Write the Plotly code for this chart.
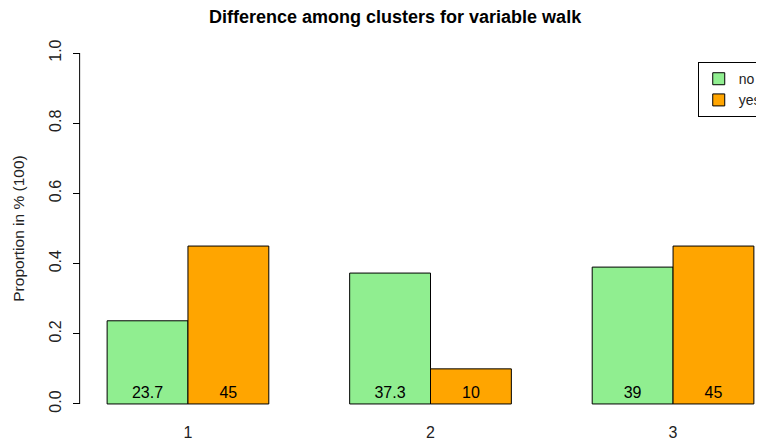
import plotly.graph_objects as go

clusters = ["1", "2", "3"]
no_vals = [0.237, 0.373, 0.39]
yes_vals = [0.45, 0.10, 0.45]
no_labels = ["23.7", "37.3", "39"]
yes_labels = ["45", "10", "45"]
y_ticks = [0.0, 0.2, 0.4, 0.6, 0.8, 1.0]

font = "Liberation Sans, Arial, sans-serif"

fig = go.Figure()
fig.add_trace(go.Bar(x=clusters, y=no_vals, name="no", text=no_labels,
                     marker=dict(color="#90EE90", line=dict(color="black", width=1))))
fig.add_trace(go.Bar(x=clusters, y=yes_vals, name="yes", text=yes_labels,
                     marker=dict(color="#FFA500", line=dict(color="black", width=1))))
fig.update_traces(textposition="inside", insidetextanchor="start", textangle=0,
                  textfont=dict(color="black", size=16, family=font),
                  constraintext="none")

# y axis line only from 0 to 1, like R's axis()
fig.add_shape(type="line", xref="paper", yref="y", x0=-0.002, x1=-0.002,
              y0=0, y1=1, line=dict(color="black", width=1))

# page body has an 8px margin, so the figure is 8px smaller and shifted
fig.update_layout(
    width=756, height=435,
    margin=dict(l=73, r=0, t=31, b=25, autoexpand=False),
    paper_bgcolor="white", plot_bgcolor="white",
    font=dict(family=font, size=16, color="#222222"),
    barmode="group", bargap=1 / 3, bargroupgap=0,
    title=dict(text="<b>Difference among clusters for variable walk</b>",
               x=0.512, xanchor="center", y=0.979, yanchor="middle",
               font=dict(size=18, family=font, color="black")),
    xaxis=dict(range=[-0.441, 2.375], showline=False, showgrid=False,
               zeroline=False, ticks="", tickfont=dict(size=16),
               automargin=False, ticklabelstandoff=3),
    yaxis=dict(range=[-0.04, 1.04], tickvals=y_ticks, tickformat=".1f",
               showline=False, showgrid=False, zeroline=False,
               ticks="outside", ticklen=7, tickcolor="black",
               tickangle=-90, tickfont=dict(size=16), automargin=False,
               ticklabelstandoff=6,
               title=dict(text="Proportion in % (100)", standoff=18,
                          font=dict(size=15.5))),
    legend=dict(x=0.903, y=0.939, xanchor="left", yanchor="top",
                bordercolor="black", borderwidth=1, bgcolor="white",
                itemwidth=30, font=dict(size=14)),
)

fig.write_html("out.html")
